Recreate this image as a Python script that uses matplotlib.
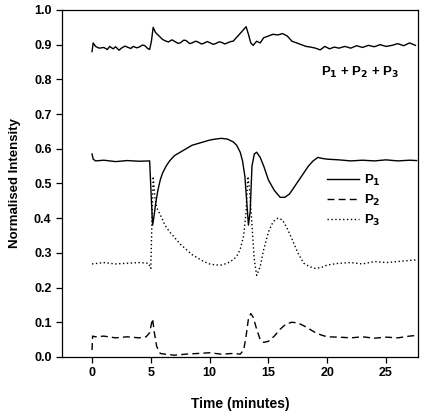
import matplotlib
matplotlib.use("Agg")
import matplotlib.pyplot as plt

plt.rcParams["font.family"] = ["Liberation Sans", "DejaVu Sans"]
plt.rcParams["font.weight"] = "bold"
plt.rcParams["mathtext.default"] = "bf"

# total P1 + P2 + P3
t_sum = [0, 0.1, 0.3, 0.6, 1, 1.3, 1.5, 1.8, 2, 2.3, 2.5, 2.8, 3, 3.3, 3.5, 3.8,
         4, 4.3, 4.5, 4.7, 4.9, 5.05, 5.2, 5.4, 5.7, 6, 6.3, 6.5, 6.8, 7, 7.3, 7.5,
         7.8, 8, 8.3, 8.5, 8.8, 9, 9.3, 9.5, 9.8, 10, 10.3, 10.5, 10.8, 11, 11.3,
         11.5, 11.8, 12, 12.4, 12.8, 13.1, 13.3, 13.5, 13.7, 14, 14.3, 14.6, 15,
         15.4, 15.8, 16.2, 16.6, 17, 17.4, 17.8, 18.2, 18.6, 19, 19.4, 19.8, 20.2,
         20.6, 21, 21.5, 22, 22.5, 23, 23.5, 24, 24.5, 25, 25.5, 26, 26.5, 27, 27.5]
v_sum = [0.88, 0.905, 0.895, 0.89, 0.892, 0.886, 0.895, 0.888, 0.894, 0.884,
         0.89, 0.896, 0.893, 0.889, 0.895, 0.891, 0.893, 0.899, 0.897, 0.89, 0.886,
         0.91, 0.95, 0.935, 0.925, 0.915, 0.91, 0.908, 0.914, 0.91, 0.904, 0.905,
         0.913, 0.912, 0.903, 0.905, 0.91, 0.908, 0.902, 0.904, 0.909, 0.906, 0.901,
         0.903, 0.908, 0.907, 0.902, 0.905, 0.909, 0.91, 0.925, 0.94, 0.952, 0.93,
         0.905, 0.898, 0.91, 0.905, 0.92, 0.925, 0.93, 0.928, 0.932, 0.925, 0.91,
         0.905, 0.90, 0.895, 0.893, 0.89, 0.885, 0.895, 0.888, 0.893, 0.89, 0.895,
         0.89, 0.897, 0.892, 0.898, 0.894, 0.90, 0.895, 0.898, 0.903, 0.897, 0.905,
         0.898]

t_p1 = [0, 0.1, 0.3, 1, 2, 3, 4, 4.9, 5.05, 5.15, 5.25, 5.4, 5.6, 5.8, 6.0, 6.3,
        6.6, 7, 7.5, 8, 8.5, 9, 9.5, 10, 10.5, 11, 11.5, 12, 12.3, 12.6, 12.8, 13.0,
        13.15, 13.3, 13.45, 13.6, 13.8, 14.0, 14.3, 14.6, 15, 15.5, 16, 16.4, 16.8,
        17.2, 17.6, 18, 18.4, 18.8, 19.2, 19.6, 20, 21, 22, 23, 24, 25, 26, 27, 27.6]
v_p1 = [0.585, 0.57, 0.565, 0.567, 0.563, 0.566, 0.564, 0.565, 0.45, 0.38, 0.40,
        0.44, 0.48, 0.51, 0.53, 0.55, 0.565, 0.58, 0.59, 0.60, 0.61, 0.615, 0.62,
        0.625, 0.628, 0.63, 0.628, 0.62, 0.61, 0.59, 0.565, 0.52, 0.45, 0.38, 0.42,
        0.55, 0.585, 0.59, 0.575, 0.55, 0.51, 0.48, 0.46, 0.46, 0.47, 0.49, 0.51,
        0.53, 0.55, 0.565, 0.575, 0.572, 0.57, 0.568, 0.565, 0.567, 0.565, 0.568,
        0.565, 0.567, 0.566]

t_p2 = [0, 0.05, 0.3, 1, 2, 3, 4, 4.6, 4.9, 5.05, 5.15, 5.3, 5.5, 5.8, 6.2, 7, 8,
        9, 10, 11, 12, 12.6, 12.9, 13.1, 13.3, 13.5, 13.7, 14.0, 14.3, 14.6, 15,
        15.5, 16, 16.5, 17, 17.5, 18, 18.5, 19, 19.5, 20, 21, 22, 23, 24, 25, 26,
        27, 27.6]
v_p2 = [0.02, 0.06, 0.058, 0.06, 0.055, 0.058, 0.055, 0.058, 0.07, 0.095, 0.11,
        0.07, 0.03, 0.01, 0.008, 0.005, 0.008, 0.01, 0.012, 0.008, 0.01, 0.008,
        0.02, 0.06, 0.11, 0.125, 0.115, 0.08, 0.05, 0.042, 0.045, 0.06, 0.08, 0.095,
        0.1, 0.098, 0.09, 0.08, 0.07, 0.063, 0.058, 0.057, 0.055, 0.058, 0.054,
        0.057, 0.055, 0.06, 0.062]

t_p3 = [0, 1, 2, 3, 4, 4.8, 5.0, 5.1, 5.2, 5.35, 5.5, 5.8, 6.2, 6.6, 7, 7.5, 8,
        8.5, 9, 9.5, 10, 10.5, 11, 11.5, 12, 12.3, 12.6, 12.9, 13.1, 13.25, 13.4,
        13.6, 13.8, 14.0, 14.3, 14.6, 15, 15.4, 15.8, 16.2, 16.6, 17, 17.5, 18,
        18.5, 19, 19.5, 20, 21, 22, 23, 24, 25, 26, 27, 27.6]
v_p3 = [0.268, 0.272, 0.268, 0.27, 0.272, 0.27, 0.255, 0.40, 0.52, 0.46, 0.43,
        0.41, 0.38, 0.36, 0.345, 0.325, 0.31, 0.295, 0.285, 0.275, 0.268, 0.265,
        0.265, 0.27, 0.28, 0.29, 0.31, 0.35, 0.42, 0.52, 0.48, 0.38, 0.28, 0.235,
        0.26, 0.31, 0.36, 0.39, 0.40, 0.395, 0.37, 0.34, 0.30, 0.27, 0.26, 0.255,
        0.258, 0.265, 0.27, 0.272, 0.268, 0.275, 0.272, 0.275, 0.278, 0.28]

x_ticks = [0, 5, 10, 15, 20, 25]
y_ticks = [0.0, 0.1, 0.2, 0.3, 0.4, 0.5, 0.6, 0.7, 0.8, 0.9, 1.0]

fig = plt.figure(figsize=(4.22, 4.16), dpi=100)
ax = fig.add_axes([0.147, 0.142, 0.843, 0.834])

ax.plot(t_sum, v_sum, color="black", lw=1.0)
ax.plot(t_p1, v_p1, color="black", lw=1.0, label="P$_1$")
ax.plot(t_p2, v_p2, color="black", lw=1.0, dashes=(5, 3), label="P$_2$")
ax.plot(t_p3, v_p3, color="black", lw=1.0, dashes=(1, 1.8), label="P$_3$")

ax.set_xlim(-2.55, 27.7)
ax.set_ylim(0, 1.0)
ax.set_xticks(x_ticks)
ax.set_yticks(y_ticks)
ax.set_yticklabels(["{:.1f}".format(v) for v in y_ticks])
ax.tick_params(direction="out", length=4, width=0.9, labelsize=9)
for s in ax.spines.values():
    s.set_linewidth(0.9)

ax.set_xlabel("Time (minutes)", fontsize=10, fontweight="bold", labelpad=13)
ax.set_ylabel("Normalised Intensity", fontsize=9.5, fontweight="bold", labelpad=9)

ax.text(22.8, 0.82, "P$_1$ + P$_2$ + P$_3$",
        ha="center", va="center", fontsize=9.5, fontweight="bold")

ax.legend(loc="upper left", bbox_to_anchor=(0.745, 0.53), frameon=False,
          handlelength=2.4, handletextpad=0.4, borderpad=0, borderaxespad=0,
          labelspacing=0.35, prop={"size": 9.5, "weight": "bold"})

fig.savefig("out.png", dpi=100)
